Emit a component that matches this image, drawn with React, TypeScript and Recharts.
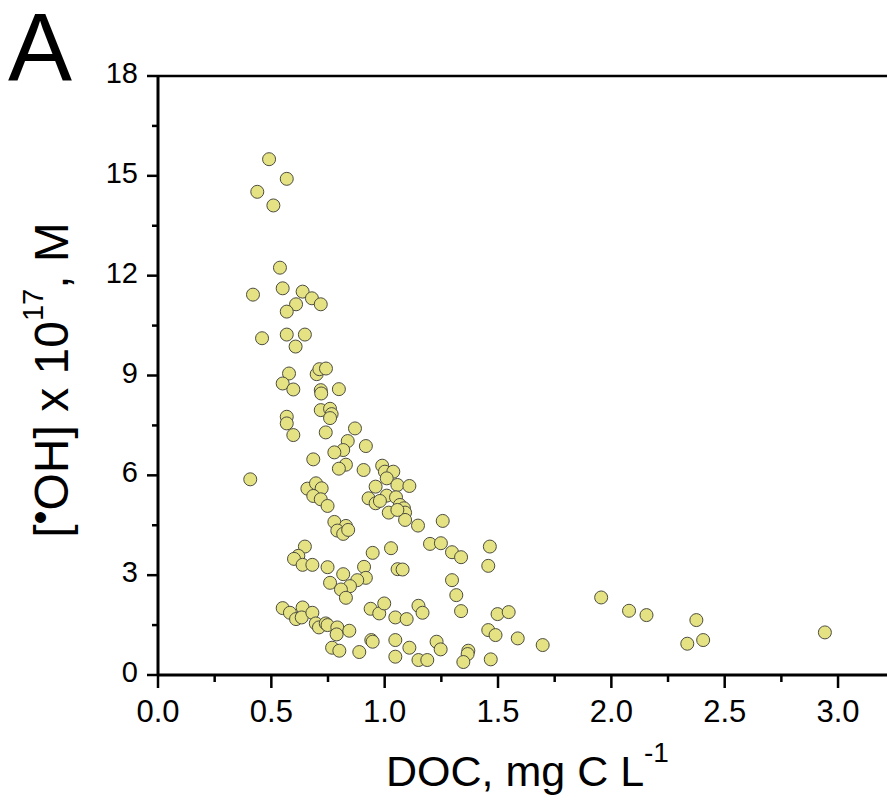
import { ScatterChart, Scatter, XAxis, YAxis, ReferenceLine } from 'recharts';

const FONT = '"Liberation Sans", Arial, sans-serif';

// DOC, mg C/L
const docValues = [
  0.49, 0.568, 0.438, 0.509, 0.538, 0.55, 0.419, 0.638, 0.679, 0.718,
  0.609, 0.568, 0.459, 0.568, 0.648, 0.607, 0.578, 0.7, 0.712, 0.741,
  0.55, 0.597, 0.718, 0.72, 0.798, 0.718, 0.759, 0.766, 0.759, 0.568,
  0.568, 0.597, 0.74, 0.869, 0.837, 0.817, 0.778, 0.917, 0.685, 0.829,
  0.798, 0.907, 0.989, 1.001, 1.038, 1.009, 0.407, 0.96, 1.056, 1.109,
  0.659, 0.697, 0.722, 0.685, 0.718, 0.748, 0.929, 0.96, 1.009, 0.979,
  1.05, 1.067, 1.085, 1.09, 1.09, 1.018, 1.056, 1.147, 1.256, 0.778,
  0.829, 0.791, 0.817, 0.839, 0.648, 0.619, 0.6, 0.638, 0.681, 0.947,
  1.028, 0.748, 0.817, 0.759, 0.909, 0.917, 0.879, 0.847, 0.807, 0.829,
  1.057, 1.079, 1.2, 1.248, 1.297, 1.337, 1.464, 1.457, 1.297, 1.316,
  1.337, 1.498, 1.547, 1.955, 2.078, 2.155, 2.375, 2.942, 2.335, 2.405,
  0.55, 0.582, 0.638, 0.609, 0.634, 0.681, 0.696, 0.71, 0.74, 0.748,
  0.791, 0.788, 0.844, 0.938, 0.976, 0.998, 1.047, 1.097, 1.149, 1.167,
  0.941, 0.947, 1.047, 1.047, 0.768, 0.8, 0.888, 1.109, 1.149, 1.188,
  1.229, 1.247, 1.369, 1.366, 1.347, 1.457, 1.489, 1.587, 1.697, 1.468,
];

// [•OH] x 10^17, M
const ohValues = [
  15.5, 14.91, 14.52, 14.11, 12.24, 11.62, 11.43, 11.52, 11.32, 11.14,
  11.14, 10.92, 10.12, 10.23, 10.23, 9.87, 9.06, 9.04, 9.19, 9.21,
  8.76, 8.58, 8.56, 8.46, 8.59, 7.96, 8.0, 7.84, 7.72, 7.76,
  7.56, 7.21, 7.29, 7.41, 7.03, 6.76, 6.69, 6.88, 6.48, 6.32,
  6.2, 6.16, 6.29, 6.11, 6.11, 5.91, 5.88, 5.66, 5.71, 5.68,
  5.6, 5.76, 5.61, 5.38, 5.28, 5.08, 5.31, 5.16, 5.39, 5.23,
  5.34, 5.11, 5.01, 4.88, 4.66, 4.88, 4.96, 4.49, 4.63, 4.6,
  4.48, 4.34, 4.24, 4.36, 3.86, 3.58, 3.49, 3.31, 3.31, 3.67,
  3.81, 3.24, 3.03, 2.77, 3.25, 2.92, 2.85, 2.67, 2.57, 2.32,
  3.18, 3.17, 3.94, 3.96, 3.69, 3.54, 3.86, 3.28, 2.85, 2.4,
  1.92, 1.83, 1.89, 2.33, 1.93, 1.8, 1.65, 1.28, 0.94, 1.05,
  2.01, 1.87, 2.03, 1.68, 1.73, 1.87, 1.55, 1.43, 1.55, 1.5,
  1.43, 1.22, 1.33, 1.99, 1.85, 2.15, 1.73, 1.68, 2.08, 1.87,
  1.05, 1.0, 1.05, 0.55, 0.82, 0.73, 0.69, 0.82, 0.45, 0.45,
  1.0, 0.77, 0.73, 0.63, 0.39, 1.35, 1.2, 1.1, 0.9, 0.47,
];

const xTicks = [0, 0.25, 0.5, 0.75, 1, 1.25, 1.5, 1.75, 2, 2.25, 2.5, 2.75, 3];
const yTicks = [0, 1.5, 3, 4.5, 6, 7.5, 9, 10.5, 12, 13.5, 15, 16.5, 18];

const data = docValues.map((x, i) => ({ x, y: ohValues[i] }));

const XTick = (props: any) => {
  const { x, y, payload } = props;
  const v = payload.value;
  const major = Math.abs(v * 2 - Math.round(v * 2)) < 1e-6;
  return (
    <g>
      <line x1={x} x2={x} y1={y} y2={y + (major ? 13 : 7)} stroke="#000" strokeWidth={2.5} />
      {major && (
        <text x={x} y={y + 47} textAnchor="middle" fontSize={31} fontFamily={FONT} fill="#000">
          {v.toFixed(1)}
        </text>
      )}
    </g>
  );
};

const YTick = (props: any) => {
  const { x, y, payload } = props;
  const v = payload.value;
  const major = v % 3 === 0;
  return (
    <g>
      <line x1={x - (major ? 11 : 6)} x2={x} y1={y} y2={y} stroke="#000" strokeWidth={2.5} />
      {major && (
        <text x={x - 20} y={y + 7} textAnchor="end" fontSize={29} fontFamily={FONT} fill="#000">
          {v}
        </text>
      )}
    </g>
  );
};

const Dot = (props: any) => (
  <circle cx={props.cx} cy={props.cy} r={6.5} fill="#e4e283" stroke="#4d4d40" strokeWidth={1} />
);

export default function App() {
  return (
    <div style={{ position: 'absolute', left: 0, top: 0, width: 887, height: 802, background: '#fff' }}>
      <ScatterChart width={887} height={802} margin={{ top: 76, right: 0, bottom: 0, left: 0 }}>
        <XAxis
          type="number"
          dataKey="x"
          domain={[0, 3.216]}
          ticks={xTicks}
          interval={0}
          tick={XTick}
          tickLine={false}
          tickSize={0}
          tickMargin={0}
          axisLine={{ stroke: '#000', strokeWidth: 3 }}
          height={127}
          allowDataOverflow
        />
        <YAxis
          type="number"
          dataKey="y"
          domain={[0, 18]}
          ticks={yTicks}
          interval={0}
          tick={YTick}
          tickLine={false}
          tickSize={0}
          tickMargin={0}
          axisLine={{ stroke: '#000', strokeWidth: 3 }}
          width={158}
          allowDataOverflow
        />
        <ReferenceLine y={18} stroke="#000" strokeWidth={2.5} />
        <Scatter data={data} shape={Dot} isAnimationActive={false} />
      </ScatterChart>
      <svg width={887} height={802} style={{ position: 'absolute', left: 0, top: 0, pointerEvents: 'none' }}>
        <text x={8} y={80} fontSize={96} fontFamily={FONT} fill="#000">A</text>
        <text x={386} y={786} fontSize={43} fontFamily={FONT} fill="#000">
          DOC, mg C L<tspan fontSize={28} dy={-24}>-1</tspan>
        </text>
        <text
          transform="translate(68,380) rotate(-90)"
          textAnchor="middle"
          fontSize={48}
          fontFamily={FONT}
          fill="#000"
        >
          [<tspan fontSize={40} dy={-14}>•</tspan><tspan dy={14}>OH] x 10</tspan>
          <tspan fontSize={29} dy={-25}>17</tspan>
          <tspan dy={25}>, M</tspan>
        </text>
      </svg>
    </div>
  );
}
